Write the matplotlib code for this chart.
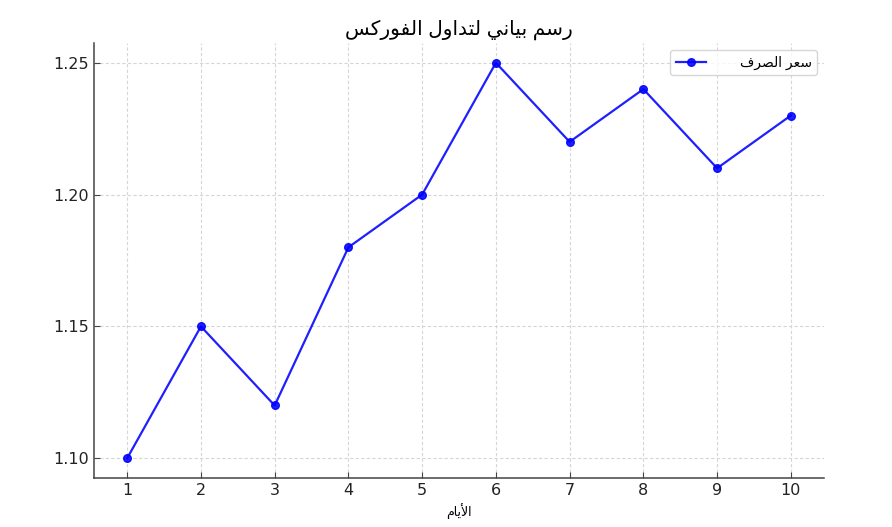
import matplotlib
matplotlib.use("Agg")
import matplotlib.pyplot as plt

days = [1, 2, 3, 4, 5, 6, 7, 8, 9, 10]
rates = [1.10, 1.15, 1.12, 1.18, 1.20, 1.25, 1.22, 1.24, 1.21, 1.23]
yticks = [1.10, 1.15, 1.20, 1.25]

title_text = "رسم بياني لتداول الفوركس"
legend_text = "سعر الصرف"
xlabel_text = "الأيام"

# presentation forms: isolated, final, initial, medial (None = right-joining only)
FORMS = {
    "ا": ("\uFE8D", "\uFE8E", None, None),
    "أ": ("\uFE83", "\uFE84", None, None),
    "ب": ("\uFE8F", "\uFE90", "\uFE91", "\uFE92"),
    "ت": ("\uFE95", "\uFE96", "\uFE97", "\uFE98"),
    "د": ("\uFEA9", "\uFEAA", None, None),
    "ر": ("\uFEAD", "\uFEAE", None, None),
    "س": ("\uFEB1", "\uFEB2", "\uFEB3", "\uFEB4"),
    "ص": ("\uFEB9", "\uFEBA", "\uFEBB", "\uFEBC"),
    "ع": ("\uFEC9", "\uFECA", "\uFECB", "\uFECC"),
    "ف": ("\uFED1", "\uFED2", "\uFED3", "\uFED4"),
    "ك": ("\uFED9", "\uFEDA", "\uFEDB", "\uFEDC"),
    "ل": ("\uFEDD", "\uFEDE", "\uFEDF", "\uFEE0"),
    "م": ("\uFEE1", "\uFEE2", "\uFEE3", "\uFEE4"),
    "ن": ("\uFEE5", "\uFEE6", "\uFEE7", "\uFEE8"),
    "و": ("\uFEED", "\uFEEE", None, None),
    "ي": ("\uFEF1", "\uFEF2", "\uFEF3", "\uFEF4"),
}
LAM_ALEF = {"ا": ("\uFEFB", "\uFEFC"), "أ": ("\uFEF7", "\uFEF8")}


def shape(text):
    # crude arabic shaping + reversal, matplotlib has no bidi support
    chars = list(text)
    out = []
    i = 0
    while i < len(chars):
        c = chars[i]
        if c not in FORMS:
            out.append(c)
            i += 1
            continue
        prev = chars[i - 1] if i > 0 else None
        joins_prev = prev in FORMS and FORMS[prev][2] is not None
        nxt = chars[i + 1] if i + 1 < len(chars) else None
        if c == "ل" and nxt in LAM_ALEF:
            out.append(LAM_ALEF[nxt][1 if joins_prev else 0])
            i += 2
            continue
        joins_next = nxt in FORMS and FORMS[c][2] is not None
        iso, fin, ini, med = FORMS[c]
        if joins_prev and joins_next:
            out.append(med)
        elif joins_prev:
            out.append(fin)
        elif joins_next:
            out.append(ini)
        else:
            out.append(iso)
        i += 1
    return "".join(out[::-1])


plt.rcParams["font.family"] = ["DejaVu Sans"]

fig = plt.figure(figsize=(8.92, 5.27), dpi=100)
ax = fig.add_axes([0.1054, 0.093, 0.8184, 0.8254])

ax.plot(days, rates, marker="o", color="blue", alpha=0.88, linewidth=1.6,
        markersize=5.5, label=shape(legend_text))

ax.set_title(shape(title_text), fontsize=14.5, family=["Liberation Sans", "DejaVu Sans"])
ax.set_xlabel(shape(xlabel_text), fontsize=9, family=["Liberation Sans", "DejaVu Sans"],
              labelpad=4)
ax.set_xticks(days)
ax.set_yticks(yticks)
ax.set_yticklabels([f"{v:.2f}" for v in yticks])

ax.grid(True, linestyle=(0, (3, 2)), color="#d6d6d6", linewidth=0.8)
ax.tick_params(direction="in", length=4, colors="#444444", labelsize=11.5,
               labelcolor="#222222")
for side in ("top", "right"):
    ax.spines[side].set_visible(False)
for side in ("left", "bottom"):
    ax.spines[side].set_color("#444444")
    ax.spines[side].set_linewidth(1.1)

leg = ax.legend(loc="upper right", handlelength=2.2, handletextpad=2.4,
                prop={"family": ["Liberation Sans", "DejaVu Sans"], "size": 10})
leg.get_frame().set_edgecolor("#cccccc")

fig.savefig("out.png", dpi=100)
